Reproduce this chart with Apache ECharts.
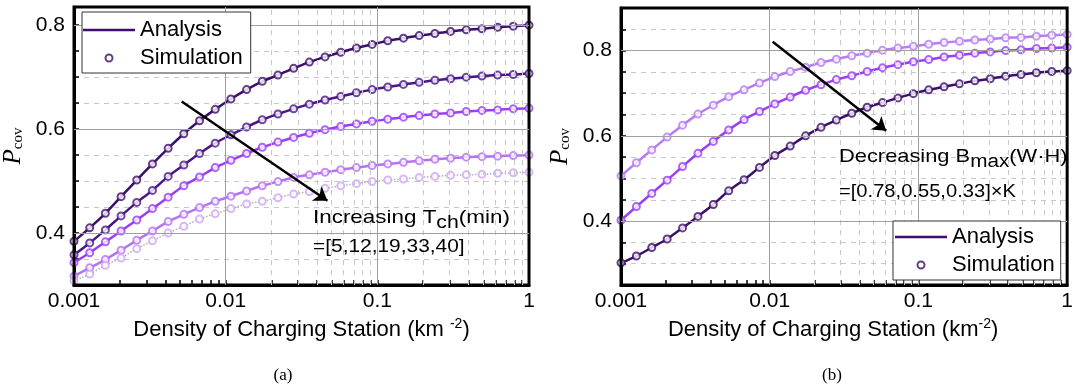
<!DOCTYPE html>
<html>
<head>
<meta charset="utf-8">
<script src="https://cdn.jsdelivr.net/npm/echarts@6/dist/echarts.min.js"></script>
<style>
html,body{margin:0;padding:0;background:#fff;}
#chart{width:1076px;height:390px;}
</style>
</head>
<body>
<div id="chart"></div>
<script>
// ---- sample points (density of charging stations, km^-2) ----
const X_POINTS = [0.001, 0.0012690, 0.0016103, 0.0020434, 0.0025929, 0.0032903, 0.0041753, 0.0052983, 0.0067234, 0.0085317,
  0.010826, 0.013738, 0.017433, 0.022122, 0.028072, 0.035622, 0.045204, 0.057362, 0.072790, 0.092367,
  0.11721, 0.14874, 0.18874, 0.23950, 0.30392, 0.38566, 0.48939, 0.62102, 0.78805, 1.0];

// ---- panel (a): Tch = 5, 12, 19, 33, 40 min ----
const TCH_5  = [0.384,0.410,0.438,0.470,0.502,0.533,0.563,0.591,0.616,0.638,0.658,0.676,0.692,0.704,0.717,0.729,0.739,0.748,0.756,0.763,0.770,0.775,0.780,0.784,0.788,0.791,0.793,0.796,0.798,0.800];
const TCH_12 = [0.358,0.381,0.406,0.433,0.459,0.482,0.509,0.531,0.553,0.573,0.589,0.604,0.618,0.629,0.639,0.648,0.656,0.663,0.670,0.676,0.681,0.686,0.690,0.694,0.697,0.700,0.702,0.704,0.705,0.707];
const TCH_19 = [0.343,0.362,0.383,0.404,0.425,0.447,0.469,0.491,0.508,0.526,0.540,0.553,0.565,0.575,0.584,0.592,0.599,0.605,0.610,0.615,0.619,0.623,0.626,0.629,0.631,0.634,0.636,0.637,0.639,0.640];
const TCH_33 = [0.317,0.333,0.349,0.367,0.386,0.404,0.422,0.436,0.449,0.461,0.471,0.481,0.491,0.499,0.507,0.512,0.517,0.522,0.526,0.530,0.533,0.536,0.539,0.542,0.544,0.546,0.547,0.548,0.549,0.550];
const TCH_40 = [0.308,0.321,0.338,0.352,0.370,0.385,0.400,0.413,0.427,0.437,0.447,0.456,0.461,0.468,0.475,0.480,0.486,0.491,0.495,0.499,0.502,0.504,0.507,0.509,0.511,0.512,0.513,0.515,0.516,0.517];

// ---- panel (b): Bmax = [0.78, 0.55, 0.33] x K ----
const BMAX_078 = [0.506,0.537,0.567,0.597,0.625,0.651,0.672,0.692,0.708,0.724,0.739,0.751,0.761,0.772,0.780,0.788,0.794,0.801,0.806,0.810,0.815,0.819,0.822,0.825,0.827,0.830,0.831,0.834,0.836,0.838];
const BMAX_055 = [0.402,0.434,0.465,0.496,0.528,0.559,0.587,0.614,0.638,0.657,0.675,0.691,0.707,0.720,0.732,0.741,0.751,0.760,0.767,0.774,0.779,0.785,0.789,0.794,0.797,0.800,0.802,0.805,0.806,0.808];
const BMAX_033 = [0.302,0.318,0.338,0.358,0.384,0.411,0.439,0.471,0.497,0.526,0.554,0.576,0.600,0.620,0.637,0.653,0.667,0.678,0.689,0.699,0.708,0.715,0.722,0.729,0.734,0.740,0.744,0.748,0.751,0.753];

// ---- ticks / grid ----
const X_TICK_LABELS = ['0.001', '0.01', '0.1', '1'];
const X_MAJOR = [0.001, 0.01, 0.1, 1];
const X_MINOR = [0.002,0.003,0.004,0.005,0.006,0.007,0.008,0.009,0.02,0.03,0.04,0.05,0.06,0.07,0.08,0.09,0.2,0.3,0.4,0.5,0.6,0.7,0.8,0.9];
const Y_MAJOR_A = [0.4, 0.6, 0.8];
const Y_MAJOR_B = [0.4, 0.6, 0.8];

// ---- annotation arrows (data coordinates) ----
const ARROW_A = [[0.00513, 0.653], [0.0469, 0.462]];
const ARROW_B = [[0.01047, 0.821], [0.0607, 0.612]];

const chart = echarts.init(document.getElementById('chart'));
const SANS = 'Liberation Sans';
const SERIF = 'Liberation Serif';
const DARK = '#3c0f6c';

function pts(ys) { return X_POINTS.map((x, i) => [x, ys[i]]); }

function curve(ys, color, gi, lineType, lw) {
  return {
    type: 'line', name: 'Analysis', xAxisIndex: gi, yAxisIndex: gi,
    data: pts(ys), smooth: 0.3, symbol: 'none', silent: true, z: 3,
    lineStyle: { color: lineType.color || color, width: lw, type: lineType.type || 'solid' },
    itemStyle: { color: color }, animation: false
  };
}
function marks(ys, color, gi) {
  return {
    type: 'scatter', name: 'Simulation', xAxisIndex: gi, yAxisIndex: gi,
    data: pts(ys), symbol: 'emptyCircle', symbolSize: 7, silent: true, z: 4,
    itemStyle: { color: color, borderColor: color, borderWidth: 1.8 }, animation: false
  };
}
function gridLines(gi, majorY) {
  const inner = X_MAJOR.filter(v => v > 0.001 && v < 1);
  return [{
    type: 'line', xAxisIndex: gi, yAxisIndex: gi, data: [], silent: true, z: 1,
    markLine: { silent: true, symbol: 'none', animation: false, label: { show: false },
      lineStyle: { color: '#c8c8c8', type: [5, 5], width: 1 },
      data: X_MINOR.map(v => ({ xAxis: v })) }
  }, {
    type: 'line', xAxisIndex: gi, yAxisIndex: gi, data: [], silent: true, z: 2,
    markLine: { silent: true, symbol: 'none', animation: false, label: { show: false },
      lineStyle: { color: '#a0a0a0', type: 'solid', width: 1 },
      data: majorY.map(v => ({ yAxis: v })).concat(inner.map(v => ({ xAxis: v }))) }
  }];
}
function arrow(gi, a) {
  return {
    type: 'line', xAxisIndex: gi, yAxisIndex: gi, data: [], silent: true, z: 6,
    markLine: { silent: true, symbol: ['none', 'arrow'], symbolSize: 13, animation: false,
      label: { show: false }, lineStyle: { color: '#000', type: 'solid', width: 2.5 },
      data: [[{ coord: a[0] }, { coord: a[1] }]] }
  };
}

function xAxis(gi, name, namePad) {
  return {
    type: 'log', logBase: 10, gridIndex: gi, min: 0.001, max: 1,
    axisLine: { show: true, lineStyle: { color: '#000', width: 3 } },
    axisTick: { show: true, inside: true, length: 5, customValues: X_MAJOR.concat(X_MINOR),
      lineStyle: { color: '#000', width: 1.5 } },
    splitLine: { show: false },
    axisLabel: { fontSize: 21, fontFamily: SANS, color: '#000', margin: 6, showMaxLabel: true, showMinLabel: true,
      formatter: v => X_TICK_LABELS[Math.round(Math.log10(v)) + 3] },
    name: name, nameLocation: 'middle', nameGap: 32,
    nameTextStyle: { padding: namePad, rich: {
      t: { fontSize: 22, fontFamily: SANS, color: '#000' },
      sup: { fontSize: 14, fontFamily: SANS, color: '#000', padding: [0, 0, 12, 0] } } }
  };
}
function yAxis(gi, min, max, majors) {
  return {
    type: 'value', gridIndex: gi, min: min, max: max, interval: 0.05,
    axisLine: { show: true, lineStyle: { color: '#000', width: 3 } },
    axisTick: { show: true, inside: true, length: 5, lineStyle: { color: '#000', width: 1.5 } },
    splitLine: { show: true, lineStyle: { color: '#c8c8c8', type: [5, 5], width: 1 } },
    axisLabel: { fontSize: 21, fontFamily: SANS, color: '#000', margin: 9, interval: 0,
      formatter: v => { const m = majors.find(t => Math.abs(t - v) < 1e-6); return m === undefined ? '' : m.toFixed(1); } },
    name: '{p|P}{s|cov}', nameLocation: 'middle', nameGap: 48,
    nameTextStyle: { rich: {
      p: { fontFamily: SERIF, fontStyle: 'italic', fontSize: 25, color: '#000' },
      s: { fontFamily: SERIF, fontSize: 15, color: '#000', padding: [10, 0, 0, 0] } } }
  };
}

function legend(left, top, pad) {
  return {
    left: left, top: top, orient: 'vertical',
    data: [
      { name: 'Analysis', icon: 'path://M0,0 L52,0 L52,2.6 L0,2.6 Z', itemStyle: { color: DARK } },
      { name: 'Simulation', icon: 'emptyCircle', itemStyle: { color: DARK, borderColor: DARK, borderWidth: 2 } }
    ],
    itemWidth: 52, itemHeight: 7, itemGap: 6, selectedMode: false, symbolKeepAspect: true,
    textStyle: { fontSize: 22, fontFamily: SANS, color: '#000' },
    borderColor: '#333', borderWidth: 1, borderRadius: 0, padding: pad, backgroundColor: '#fff', z: 10
  };
}

function annot(x, y, text, scaleX, rich) {
  return {
    type: 'text', x: x, y: y, scaleX: scaleX, z: 20, silent: true,
    style: { text: text, fill: '#000', font: '19px ' + SANS, align: 'left', verticalAlign: 'middle', rich: rich }
  };
}
const SUB_RICH = {
  a: { fontSize: 19, fontFamily: SANS, fill: '#000', color: '#000' },
  s: { fontSize: 18, fontFamily: SANS, fill: '#000', color: '#000', padding: [11, 0, 0, 0] }
};

const option = {
  animation: false,
  backgroundColor: '#fff',
  grid: [
    { left: 73, top: 7, width: 456, height: 278, show: true, borderColor: '#000', borderWidth: 3, backgroundColor: 'transparent', z: 5 },
    { left: 621, top: 8, width: 456, height: 277, show: true, borderColor: '#000', borderWidth: 3, backgroundColor: 'transparent', z: 5 }
  ],
  xAxis: [
    xAxis(0, '{t|Density of Charging Station (km }{sup|-2}{t|)}', [0, 0, 0, 0]),
    xAxis(1, '{t|Density of Charging Station (km}{sup|-2}{t|)}', [0, 22, 0, 0])
  ],
  yAxis: [
    yAxis(0, 0.3, 0.835, Y_MAJOR_A),
    yAxis(1, 0.25, 0.9, Y_MAJOR_B)
  ],
  legend: [
    legend(82, 12, [7, 8, 4, 1]),
    legend(893, 221, [5, 6, 4, 2])
  ],
  series: [
    curve(TCH_5, '#3c0f6c', 0, {}, 2.5),
    marks(TCH_5, '#3c0f6c', 0),
    curve(TCH_12, '#4a168a', 0, {}, 2.5),
    marks(TCH_12, '#4a168a', 0),
    curve(TCH_19, '#9a3ef5', 0, {}, 2.5),
    marks(TCH_19, '#9a3ef5', 0),
    curve(TCH_33, '#b473f2', 0, {}, 2.5),
    marks(TCH_33, '#b473f2', 0),
    curve(TCH_40, '#cfa6f5', 0, { type: 'dotted', color: '#a9b8b0' }, 1.5),
    marks(TCH_40, '#cfa6f5', 0),
    curve(BMAX_078, '#b77cf3', 1, {}, 2.5),
    marks(BMAX_078, '#b77cf3', 1),
    curve(BMAX_055, '#9a3ff5', 1, {}, 2.5),
    marks(BMAX_055, '#9a3ff5', 1),
    curve(BMAX_033, '#3c0f6c', 1, {}, 2.5),
    marks(BMAX_033, '#3c0f6c', 1),
    ...gridLines(0, Y_MAJOR_A),
    ...gridLines(1, Y_MAJOR_B),
    arrow(0, ARROW_A),
    arrow(1, ARROW_B)
  ],
  graphic: [
    annot(313, 218, '{a|Increasing T}{s|ch}{a|(min)}', 1.18, SUB_RICH),
    annot(313, 247, '=[5,12,19,33,40]', 1.10),
    annot(839, 157, '{a|Decreasing B}{s|max}{a|(W·H)}', 1.15, SUB_RICH),
    annot(839, 192, '=[0.78,0.55,0.33]×K', 1.06),
    { type: 'text', x: 283, y: 376, z: 20, silent: true,
      style: { text: '(a)', fill: '#000', font: '17px ' + SERIF, align: 'center', verticalAlign: 'middle' } },
    { type: 'text', x: 832, y: 376, z: 20, silent: true,
      style: { text: '(b)', fill: '#000', font: '17px ' + SERIF, align: 'center', verticalAlign: 'middle' } }
  ]
};
chart.setOption(option);
</script>
</body>
</html>
